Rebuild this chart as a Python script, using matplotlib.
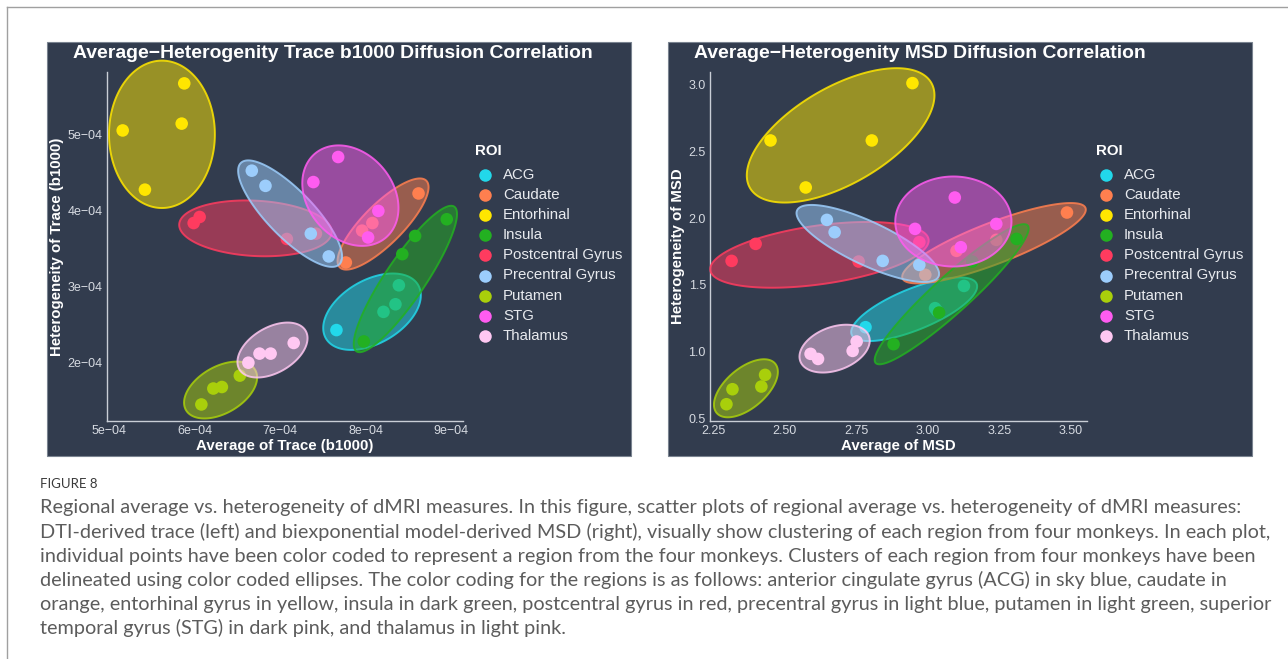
"""
Average-Heterogeneity 散点图 (Trace b1000 / MSD)
"""

import numpy as np
import matplotlib
matplotlib.use('Agg')
import matplotlib.pyplot as plt
from matplotlib.patches import Rectangle
from matplotlib.lines import Line2D
from matplotlib.colors import to_rgba
from matplotlib.ticker import FuncFormatter, FixedLocator

# ==================== 数据 ====================

rois = ['ACG', 'Caudate', 'Entorhinal', 'Insula', 'Postcentral Gyrus',
        'Precentral Gyrus', 'Putamen', 'STG', 'Thalamus']
roi_colors = ['#22d8ea', '#ff7f4f', '#ffe600', '#23b021', '#ff3b5f',
              '#9ccdfc', '#a9cf0b', '#ff5cf0', '#ffc8f2']

# Trace b1000, 单位 1e-4, 每个区域四只猴子
trace_avg = [
    [7.66, 8.21, 8.35, 8.39],
    [8.62, 7.77, 8.08, 7.96],
    [5.88, 5.85, 5.16, 5.42],
    [8.95, 8.58, 8.43, 7.98],
    [6.06, 5.99, 7.08, 7.42],
    [6.67, 6.83, 7.36, 7.57],
    [6.08, 6.22, 6.32, 6.53],
    [7.68, 7.39, 8.15, 8.03],
    [6.63, 6.76, 6.89, 7.16],
]
trace_het = [
    [2.43, 2.67, 2.77, 3.02],
    [4.23, 3.32, 3.84, 3.74],
    [5.68, 5.15, 5.06, 4.28],
    [3.89, 3.67, 3.43, 2.28],
    [3.92, 3.84, 3.63, 3.70],
    [4.53, 4.33, 3.70, 3.40],
    [1.45, 1.66, 1.68, 1.83],
    [4.71, 4.38, 4.00, 3.65],
    [2.00, 2.12, 2.12, 2.26],
]
# 椭圆: 中心 (cx, cy), 两个共轭半径向量 (Mx, My), (mx, my), 单位 1e-4
trace_ellipses = [
    (8.076, 2.672, 0.540, 0.351, 0.185, -0.361),
    (8.205, 3.827, 0.506, 0.571, 0.165, -0.186),
    (5.619, 5.009, 0.000, 0.971, 0.619, 0.000),
    (8.466, 3.103, 0.572, 0.953, 0.194, -0.148),
    (6.713, 3.770, 0.892, -0.053, -0.017, -0.364),
    (7.118, 3.964, 0.576, -0.668, -0.194, -0.214),
    (6.305, 1.640, 0.405, 0.264, 0.136, -0.266),
    (7.823, 4.201, 0.413, -0.555, -0.382, -0.361),
    (6.912, 2.167, 0.388, 0.253, 0.132, -0.259),
]

msd_avg = [
    [2.782, 3.126, 3.025, 3.032],
    [3.486, 3.239, 2.991, 3.100],
    [2.946, 2.450, 2.804, 2.573],
    [3.310, 3.155, 2.880, 3.039],
    [2.314, 2.398, 2.758, 2.970],
    [2.647, 2.674, 2.842, 2.970],
    [2.296, 2.317, 2.418, 2.431],
    [3.094, 2.955, 3.239, 3.115],
    [2.590, 2.616, 2.737, 2.751],
]
msd_het = [
    [1.185, 1.493, 1.327, 1.307],
    [2.041, 1.837, 1.576, 1.755],
    [3.007, 2.579, 2.579, 2.228],
    [1.844, 1.675, 1.058, 1.294],
    [1.680, 1.807, 1.675, 1.820],
    [1.986, 1.894, 1.680, 1.650],
    [0.610, 0.722, 0.742, 0.829],
    [2.153, 1.919, 1.956, 1.782],
    [0.986, 0.948, 1.008, 1.078],
]
msd_ellipses = [
    (2.952, 1.319, 0.2184, 0.1895, 0.0270, -0.1432),
    (3.231, 1.812, 0.3198, 0.2630, 0.0258, -0.1442),
    (2.695, 2.617, 0.3170, 0.3920, 0.0840, -0.3130),
    (3.083, 1.431, 0.2656, 0.5130, 0.0427, -0.1018),
    (2.621, 1.725, 0.3815, 0.1150, 0.0142, -0.2169),
    (2.790, 1.810, 0.2471, -0.2475, -0.0319, -0.1467),
    (2.364, 0.729, 0.1023, 0.1840, 0.0448, -0.1145),
    (3.089, 1.974, 0.2031, 0.0000, 0.0000, -0.3360),
    (2.674, 1.025, 0.1200, 0.0936, 0.0258, -0.1521),
]

trace_xticks = [5e-4, 6e-4, 7e-4, 8e-4, 9e-4]
trace_yticks = [2e-4, 3e-4, 4e-4, 5e-4]
msd_xticks = [2.25, 2.50, 2.75, 3.00, 3.25, 3.50]
msd_yticks = [0.5, 1.0, 1.5, 2.0, 2.5, 3.0]

caption_lines = [
    "Regional average vs. heterogeneity of dMRI measures. In this figure, scatter plots of regional average vs. heterogeneity of dMRI measures:",
    "DTI-derived trace (left) and biexponential model-derived MSD (right), visually show clustering of each region from four monkeys. In each plot,",
    "individual points have been color coded to represent a region from the four monkeys. Clusters of each region from four monkeys have been",
    "delineated using color coded ellipses. The color coding for the regions is as follows: anterior cingulate gyrus (ACG) in sky blue, caudate in",
    "orange, entorhinal gyrus in yellow, insula in dark green, postcentral gyrus in red, precentral gyrus in light blue, putamen in light green, superior",
    "temporal gyrus (STG) in dark pink, and thalamus in light pink.",
]

# ==================== 画布 ====================

W, H = 1288, 659
PANEL = '#323c4e'
plt.rcParams['font.family'] = ['Liberation Sans', 'DejaVu Sans']

fig = plt.figure(figsize=(W / 100, H / 100), dpi=100, facecolor='white')


def fx(px):
    return px / W


def fy(py):
    return 1 - py / H


# 外框
fig.add_artist(Line2D([fx(7), fx(7)], [fy(7), 0], color='#a0a0a0', lw=1))
fig.add_artist(Line2D([fx(7), 1], [fy(7), fy(7)], color='#a0a0a0', lw=1))


def fit_width(t, target_px):
    r = fig.canvas.get_renderer()
    w = t.get_window_extent(renderer=r).width
    t.set_fontsize(t.get_fontsize() * target_px / w)


def draw_panel(x0, x1, ax_box, title, title_w, xs, ys, ells, scale,
               xlim, ylim, xticks, yticks, xfmt, yfmt, xlabel, ylabel,
               legend_x):
    fig.patches.append(Rectangle((fx(x0), fy(456)), fx(x1) - fx(x0), fy(42) - fy(456),
                                 transform=fig.transFigure, facecolor=PANEL,
                                 edgecolor='#7a8390', lw=0.8, zorder=-5))
    l, r, t, b = ax_box
    ax = fig.add_axes([fx(l), fy(b), fx(r) - fx(l), fy(t) - fy(b)])
    ax.patch.set_alpha(0)

    tt = np.linspace(0, 2 * np.pi, 240)
    for i, roi in enumerate(rois):
        c = roi_colors[i]
        ax.scatter(np.array(xs[i]) * scale, np.array(ys[i]) * scale, s=82,
                   color=c, edgecolors='none', zorder=2 + 2 * i, clip_on=False)
        cx, cy, mx1, my1, mx2, my2 = ells[i]
        ex = cx + mx1 * np.cos(tt) + mx2 * np.sin(tt)
        ey = cy + my1 * np.cos(tt) + my2 * np.sin(tt)
        ax.fill(ex * scale, ey * scale, facecolor=to_rgba(c, 0.5),
                edgecolor=to_rgba(c, 0.85), lw=1.4, zorder=3 + 2 * i, clip_on=False)

    ax.set_xlim(*xlim)
    ax.set_ylim(*ylim)
    ax.xaxis.set_major_locator(FixedLocator(xticks))
    ax.yaxis.set_major_locator(FixedLocator(yticks))
    ax.xaxis.set_major_formatter(FuncFormatter(xfmt))
    ax.yaxis.set_major_formatter(FuncFormatter(yfmt))
    ax.tick_params(length=0, labelsize=9, labelcolor='#d6dae1', pad=3)
    for s in ['top', 'right']:
        ax.spines[s].set_visible(False)
    for s in ['left', 'bottom']:
        ax.spines[s].set_color('#c9ced6')
        ax.spines[s].set_linewidth(1)
        ax.spines[s].set_zorder(1)

    fig.text(fx((l + r) / 2), fy(446), xlabel, color='white', fontsize=10.8,
             fontweight='bold', ha='center', va='center')
    fig.text(fx(x0 + 10), fy((t + b) / 2), ylabel, color='white', fontsize=10.8,
             fontweight='bold', ha='center', va='center', rotation=90)
    ttl = fig.text(fx(x0 + 26), fy(54), title, color='white', fontsize=14,
                   fontweight='bold', ha='left', va='center')
    fit_width(ttl, title_w)

    # 图例
    fig.text(fx(legend_x - 10), fy(151), 'ROI', color='white', fontsize=10.8,
             fontweight='bold', ha='left', va='center')
    for i, roi in enumerate(rois):
        yy = fy(175 + 20.1 * i)
        fig.add_artist(Line2D([fx(legend_x)], [yy], marker='o', ms=9,
                              color=roi_colors[i], mec='none', ls='none'))
        fig.text(fx(legend_x + 18), yy, roi, color='#e8eaee', fontsize=10.8,
                 ha='left', va='center')
    return ax


def sci_fmt(v, pos):
    return f"{v * 1e4:.0f}e\u221204"


draw_panel(47, 631, (106.7, 463, 72, 420.7),
           'Average\u2212Heterogenity Trace b1000 Diffusion Correlation', 522,
           trace_avg, trace_het, trace_ellipses, 1e-4,
           (4.973e-4, 9.14e-4), (1.236e-4, 5.83e-4),
           trace_xticks, trace_yticks, sci_fmt, sci_fmt,
           'Average of Trace (b1000)', 'Heterogeneity of Trace (b1000)', 485)

draw_panel(668, 1252, (710, 1087, 72, 420.7),
           'Average\u2212Heterogenity MSD Diffusion Correlation', 452,
           msd_avg, msd_het, msd_ellipses, 1.0,
           (2.2385, 3.556), (0.487, 3.09),
           msd_xticks, msd_yticks, lambda v, p: f"{v:.2f}", lambda v, p: f"{v:.1f}",
           'Average of MSD', 'Heterogeneity of MSD', 1106)

# ==================== 图注 ====================

cap_family = ['Lato', 'DejaVu Sans']
fig.text(fx(40), fy(484), 'FIGURE 8', color='#3a3a3a', fontsize=9.5,
         ha='left', va='center', family=cap_family)
cap_texts = []
for k, line in enumerate(caption_lines):
    cap_texts.append(fig.text(fx(40), fy(508 + 24.05 * k), line, color='#5c5c5c',
                              fontsize=12, ha='left', va='center',
                              family=cap_family))
fit_width(cap_texts[1], 1230)
for ct in cap_texts:
    ct.set_fontsize(cap_texts[1].get_fontsize())

fig.savefig('out.png', dpi=100, facecolor='white')
